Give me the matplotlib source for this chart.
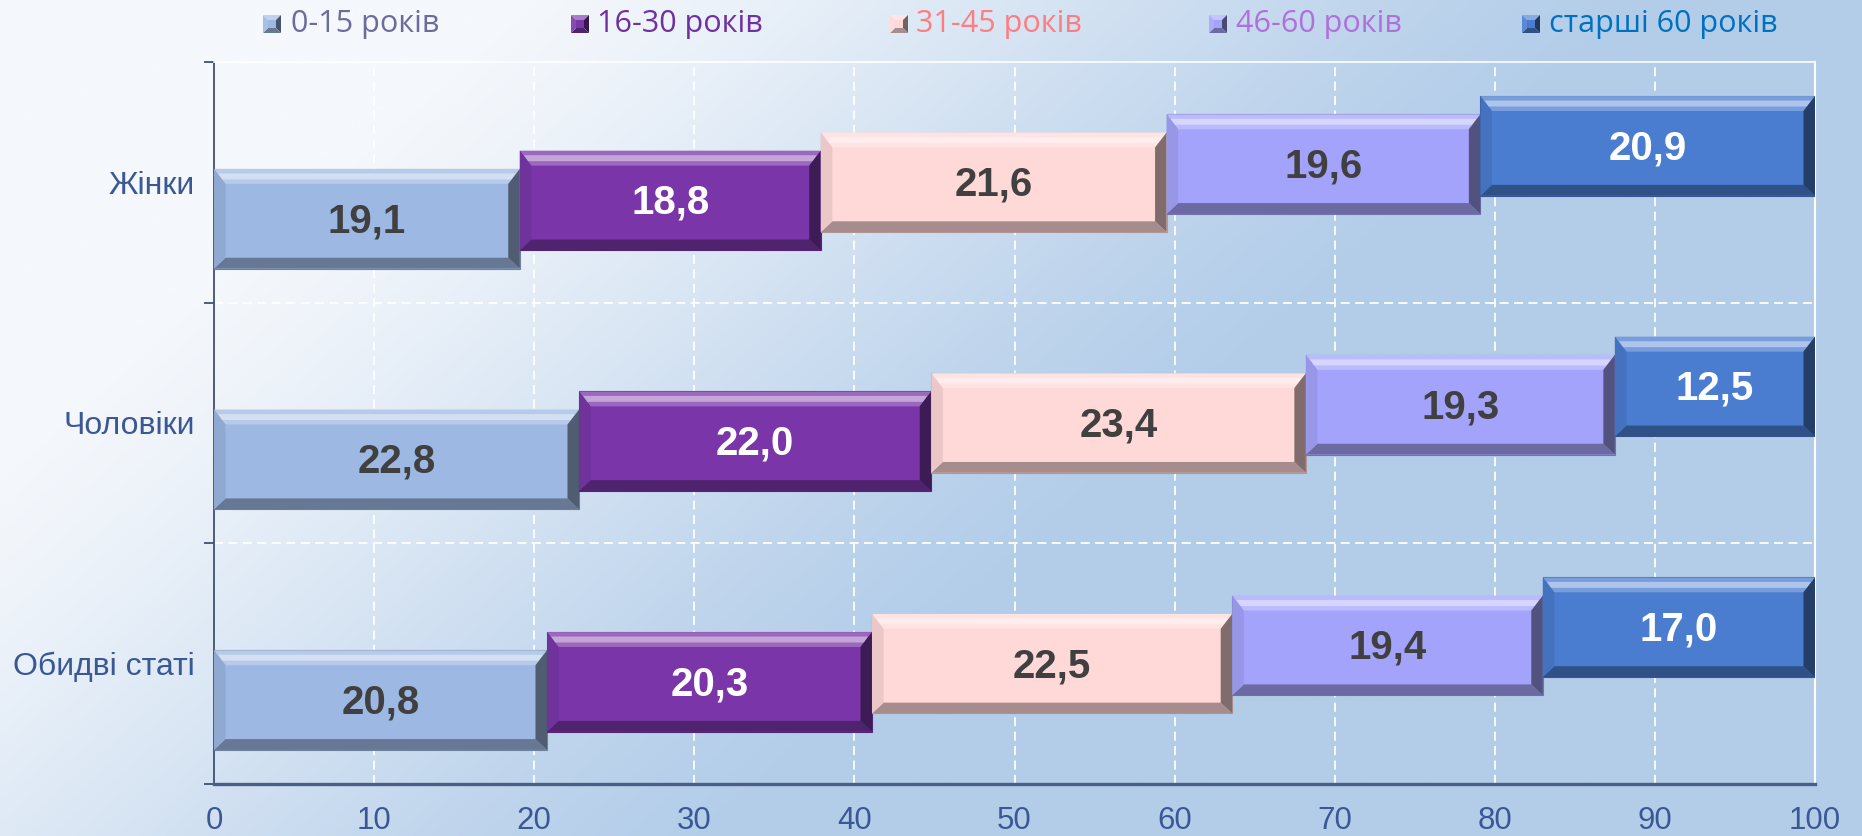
import numpy as np
import matplotlib
matplotlib.use('Agg')
import matplotlib.pyplot as plt
from matplotlib.patches import Polygon, Rectangle
from matplotlib.colors import to_rgb

# ---------------- data ----------------
categories = ['Обидві статі', 'Чоловіки', 'Жінки']
age_groups = ['0-15 років', '16-30 років', '31-45 років', '46-60 років', 'старші 60 років']
both_sexes = [20.8, 20.3, 22.5, 19.4, 17.0]
men = [22.8, 22.0, 23.4, 19.3, 12.5]
women = [19.1, 18.8, 21.6, 19.6, 20.9]
x_ticks = [0, 10, 20, 30, 40, 50, 60, 70, 80, 90, 100]

series_by_cat = [both_sexes, men, women]

bar_colors = ['#9DB8E2', '#7A36A8', '#FFD8D8', '#A4A3FB', '#4A7CD0']
value_colors = ['#404040', '#FFFFFF', '#404040', '#404040', '#FFFFFF']
legend_text_colors = ['#6C6C9C', '#7030A0', '#FF7C80', '#B070DC', '#0070C0']
axis_text_color = '#3A5894'

W, H = 1862, 836
fig = plt.figure(figsize=(W / 100, H / 100), dpi=100)

# ---------------- background gradient (pixel-coordinate helper axes) ----------------
bg = fig.add_axes([0, 0, 1, 1], zorder=-10)
bg.set_xlim(0, W)
bg.set_ylim(H, 0)
bg.axis('off')
gx = np.linspace(0, 1, 240)
gy = np.linspace(0, 1, 110)
GX, GY = np.meshgrid(gx, gy)
t = np.clip((1.0 * GX + 0.5 * GY - 0.27) / 0.62, 0, 1)
t = t * t * (3 - 2 * t) * 0.5 + t * 0.5
c0 = np.array(to_rgb('#F5F8FC'))
c1 = np.array(to_rgb('#B3CDE9'))
img = c0[None, None, :] * (1 - t[..., None]) + c1[None, None, :] * t[..., None]
bg.imshow(img, extent=[0, W, H, 0], aspect='auto', interpolation='bilinear')


def mix(c, other, a):
    c = np.array(to_rgb(c))
    o = np.array(to_rgb(other))
    return tuple(c * (1 - a) + o * a)


# ---------------- main axes ----------------
ax = fig.add_axes([214 / W, 52 / H, 1601 / W, 722 / H])
ax.patch.set_alpha(0)
ax.set_xlim(0, 100)
ax.set_ylim(-0.5, 2.5)

bar_h = 0.414
step = 0.0757
bx = 0.72      # side bevel width (x units)
bt = 0.062     # top bevel (y units)
bb = 0.045     # bottom bevel


def bevel_bar(x0, x1, yc, color, z):
    yt = yc + bar_h / 2
    yb = yc - bar_h / 2
    ax.add_patch(Rectangle((x0, yb), x1 - x0, bar_h, facecolor=color,
                           edgecolor=mix(color, 'black', 0.3), linewidth=0.8, zorder=z))
    top = [(x0, yt), (x1, yt), (x1 - bx, yt - bt), (x0 + bx, yt - bt)]
    bot = [(x0, yb), (x1, yb), (x1 - bx, yb + bb), (x0 + bx, yb + bb)]
    left = [(x0, yb), (x0, yt), (x0 + bx, yt - bt), (x0 + bx, yb + bb)]
    right = [(x1, yb), (x1, yt), (x1 - bx, yt - bt), (x1 - bx, yb + bb)]
    ax.add_patch(Polygon(top, closed=True, facecolor=mix(color, 'white', 0.25), edgecolor='none', zorder=z + 0.1))
    hl = [(x0 + bx * 0.35, yt - bt * 0.3), (x1 - bx * 0.35, yt - bt * 0.3),
          (x1 - bx * 0.7, yt - bt * 0.7), (x0 + bx * 0.7, yt - bt * 0.7)]
    ax.add_patch(Polygon(hl, closed=True, facecolor=mix(color, 'white', 0.55), edgecolor='none', zorder=z + 0.15))
    ax.add_patch(Polygon(bot, closed=True, facecolor=mix(color, 'black', 0.35), edgecolor='none', zorder=z + 0.1))
    ax.add_patch(Polygon(left, closed=True, facecolor=mix(color, 'black', 0.08), edgecolor='none', zorder=z + 0.2))
    ax.add_patch(Polygon(right, closed=True, facecolor=mix(color, 'black', 0.5), edgecolor='none', zorder=z + 0.2))


for ci, vals in enumerate(series_by_cat):
    left_edge = 0.0
    for j, v in enumerate(vals):
        yc = ci + (j - 2) * step
        bevel_bar(left_edge, left_edge + v, yc, bar_colors[j], 3 + j)
        ax.text(left_edge + v / 2, yc - 0.01, f'{v:.1f}'.replace('.', ','), ha='center', va='center',
                fontsize=29, fontweight='bold', family='Liberation Sans',
                color=value_colors[j], zorder=10)
        left_edge += v

# grid
for xv in x_ticks[1:-1]:
    ax.axvline(xv, color='white', linestyle=(0, (5, 3)), linewidth=1.3, zorder=1)
for yv in [0.5, 1.5]:
    ax.axhline(yv, color='white', linestyle=(0, (5, 3)), linewidth=1.3, zorder=1)

# spines
ax.spines['right'].set_color('white')
ax.spines['right'].set_linewidth(1.5)
ax.spines['top'].set_color('white')
ax.spines['top'].set_linewidth(1.2)
ax.spines['left'].set_color('#3F5070')
ax.spines['left'].set_linewidth(1.3)
ax.spines['bottom'].set_color('#4A5E88')
ax.spines['bottom'].set_linewidth(2.4)

# ticks
ax.set_xticks(x_ticks)
ax.set_xticklabels([str(v) for v in x_ticks], fontsize=22.5, family='Liberation Sans', color=axis_text_color)
ax.tick_params(axis='x', length=0, pad=16)

ax.set_yticks([-0.5, 0.5, 1.5, 2.5])
ax.set_yticklabels([])
ax.tick_params(axis='y', which='major', length=7.5, width=1.3, color='#3F5070', direction='out')
ax.set_yticks([0, 1, 2], minor=True)
ax.set_yticklabels(categories, minor=True, fontsize=23, family='Liberation Sans', color=axis_text_color)
ax.tick_params(axis='y', which='minor', length=0, pad=14)

# ---------------- legend (pixel coordinates on helper axes) ----------------
marker_cx = [272, 580, 899, 1218, 1531]
text_x = [291, 597, 916, 1236, 1549]
leg_y = 24
ms = 18
for k, lab in enumerate(age_groups):
    cx, cy = marker_cx[k], leg_y
    c = bar_colors[k]
    hs = ms / 2
    ins = ms * 0.2
    outer = [(cx - hs, cy - hs), (cx + hs, cy - hs), (cx + hs, cy + hs), (cx - hs, cy + hs)]
    inner = [(cx - ins, cy - ins), (cx + ins, cy - ins), (cx + ins, cy + ins), (cx - ins, cy + ins)]
    facets = [
        ([outer[0], outer[1], inner[1], inner[0]], mix(c, 'white', 0.35)),   # top
        ([outer[1], outer[2], inner[2], inner[1]], mix(c, 'black', 0.55)),   # right
        ([outer[2], outer[3], inner[3], inner[2]], mix(c, 'black', 0.35)),   # bottom
        ([outer[3], outer[0], inner[0], inner[3]], mix(c, 'white', 0.1)),    # left
        (inner, c),
    ]
    for pts, fc in facets:
        bg.add_patch(Polygon(pts, closed=True, facecolor=fc, edgecolor='none', zorder=5))
    bg.text(text_x[k], leg_y, lab, ha='left', va='center', fontsize=22, family='Open Sans',
            color=legend_text_colors[k], zorder=5)

fig.savefig('out.png', dpi=100)
